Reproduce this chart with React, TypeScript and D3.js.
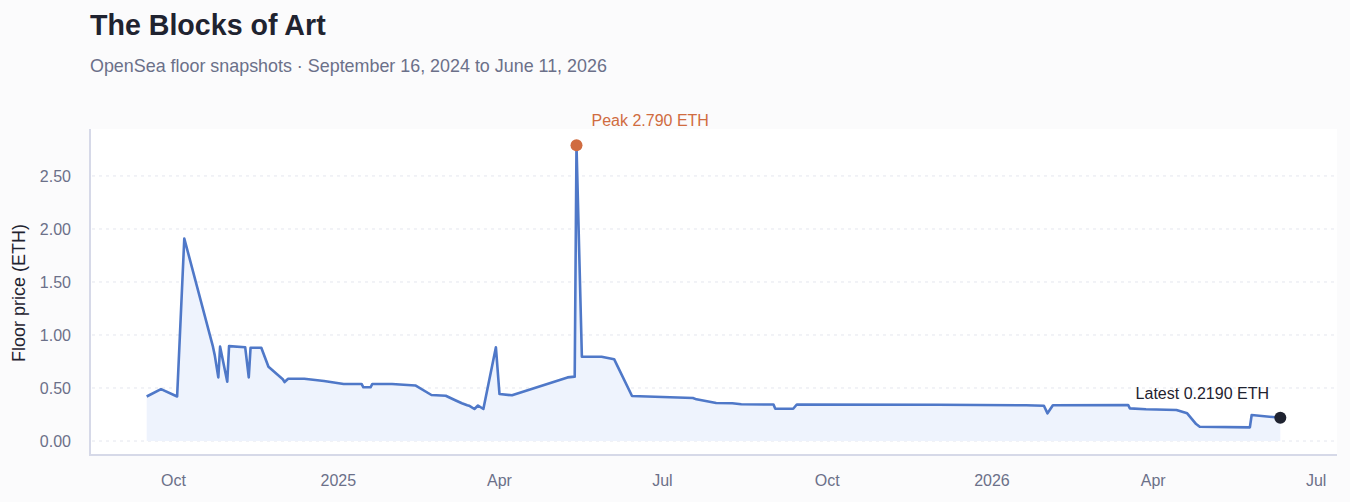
import * as d3 from 'd3';

const dates = [
  '2024-09-16', '2024-09-24', '2024-10-03', '2024-10-07', '2024-10-23', '2024-10-24',
  '2024-10-26', '2024-10-27', '2024-10-31', '2024-11-01', '2024-11-10', '2024-11-12',
  '2024-11-13', '2024-11-19', '2024-11-23', '2024-12-01', '2024-12-02', '2024-12-04',
  '2024-12-13', '2024-12-24', '2025-01-04', '2025-01-14', '2025-01-15', '2025-01-19',
  '2025-01-20', '2025-01-31', '2025-02-13', '2025-02-22', '2025-03-02', '2025-03-07',
  '2025-03-11', '2025-03-14', '2025-03-15', '2025-03-18', '2025-03-20', '2025-03-23',
  '2025-03-30', '2025-04-01', '2025-04-08', '2025-05-09', '2025-05-13', '2025-05-14',
  '2025-05-17', '2025-05-28', '2025-06-04', '2025-06-14', '2025-07-18', '2025-07-20',
  '2025-07-31', '2025-08-09', '2025-08-14', '2025-09-01', '2025-09-02', '2025-09-12',
  '2025-09-14', '2025-12-02', '2026-01-20', '2026-01-30', '2026-02-01', '2026-02-04',
  '2026-03-18', '2026-03-19', '2026-03-28', '2026-04-14', '2026-04-20', '2026-04-25',
  '2026-04-27', '2026-05-25', '2026-05-26', '2026-06-11',
];

const floor = [
  0.42, 0.49, 0.42, 1.91, 0.89, 0.81,
  0.6, 0.89, 0.56, 0.895, 0.885, 0.6,
  0.88, 0.88, 0.7, 0.583, 0.556, 0.587,
  0.587, 0.566, 0.538, 0.538, 0.507, 0.507,
  0.538, 0.538, 0.524, 0.434, 0.427, 0.387,
  0.356, 0.337, 0.333, 0.302, 0.335, 0.302,
  0.884, 0.443, 0.431, 0.6, 0.607, 2.79,
  0.795, 0.795, 0.772, 0.425, 0.406, 0.393,
  0.358, 0.356, 0.346, 0.344, 0.304, 0.304,
  0.344, 0.342, 0.337, 0.333, 0.261, 0.337,
  0.34, 0.308, 0.299, 0.292, 0.261, 0.16,
  0.135, 0.129, 0.245, 0.219,
];

const yTicks = [0, 0.5, 1, 1.5, 2, 2.5];
const xTicks = ['2024-10-01', '2025-01-01', '2025-04-01', '2025-07-01', '2025-10-01', '2026-01-01', '2026-04-01', '2026-07-01'];

const W = 1350;
const H = 502;
const font = '"Liberation Sans", Arial, Helvetica, sans-serif';
const parse = d3.utcParse('%Y-%m-%d');

export default function App() {
  const data = dates.map((d, i) => ({ date: parse(d) as Date, value: floor[i] }));
  const [d0, d1] = d3.extent(data, d => d.date) as [Date, Date];
  const pad = (d1.getTime() - d0.getTime()) * 0.05;

  const x = d3.scaleUtc()
    .domain([new Date(d0.getTime() - pad), new Date(d1.getTime() + pad)])
    .range([90, 1337]);
  const y = d3.scaleLinear().domain([-0.132, 2.943]).range([455, 129]);

  const line = d3.line<{ date: Date; value: number }>()
    .x(d => x(d.date))
    .y(d => y(d.value));
  const area = d3.area<{ date: Date; value: number }>()
    .x(d => x(d.date))
    .y0(y(0))
    .y1(d => y(d.value));

  const peak = data.reduce((a, b) => (b.value > a.value ? b : a));
  const last = data[data.length - 1];
  const monthFmt = (d: Date) => (d.getUTCMonth() === 0 ? d3.utcFormat('%Y')(d) : d3.utcFormat('%b')(d));

  return (
    <svg width={W} height={H} style={{ position: 'absolute', left: 0, top: 0, fontFamily: font }}>
      <rect width={W} height={H} fill="#fbfbfc" />
      <text x={90} y={35} fontSize={28.6} fontWeight="bold" fill="#1f2330">The Blocks of Art</text>
      <text x={90} y={72} fontSize={17.9} fill="#6b7089">
        OpenSea floor snapshots · September 16, 2024 to June 11, 2026
      </text>

      <rect x={90} y={129} width={1247} height={326} fill="#ffffff" />

      {yTicks.map(t => (
        <g key={t}>
          <line x1={92} x2={1337} y1={y(t)} y2={y(t)} stroke="#e4e6ee" strokeDasharray="3,4" />
          <text x={71} y={y(t)} dy="0.35em" textAnchor="end" fontSize={16} fill="#6b7089">
            {t.toFixed(2)}
          </text>
        </g>
      ))}

      {xTicks.map(t => {
        const d = parse(t) as Date;
        return (
          <text key={t} x={x(d)} y={486} textAnchor="middle" fontSize={16} fill="#6b7089">
            {monthFmt(d)}
          </text>
        );
      })}

      <path d={area(data) ?? ''} fill="#eef3fd" />
      <path d={line(data) ?? ''} fill="none" stroke="#4f78c8" strokeWidth={2.6} strokeLinejoin="round" />

      <line x1={90} x2={90} y1={129} y2={456} stroke="#d6d9e8" strokeWidth={2} />
      <line x1={89} x2={1337} y1={455} y2={455} stroke="#d6d9e8" strokeWidth={2} />

      <text transform="translate(25,293) rotate(-90)" textAnchor="middle" fontSize={18} fill="#1f2330">
        Floor price (ETH)
      </text>

      <circle cx={x(peak.date)} cy={y(peak.value)} r={6} fill="#d06c40" />
      <text x={x(peak.date) + 15} y={126} fontSize={16} fill="#d06c40">
        Peak {peak.value.toFixed(3)} ETH
      </text>

      <circle cx={x(last.date)} cy={y(last.value)} r={6} fill="#1f2330" />
      <text x={x(last.date) - 78} y={399} textAnchor="middle" fontSize={16} fill="#1f2330">
        Latest {last.value.toFixed(4)} ETH
      </text>
    </svg>
  );
}
